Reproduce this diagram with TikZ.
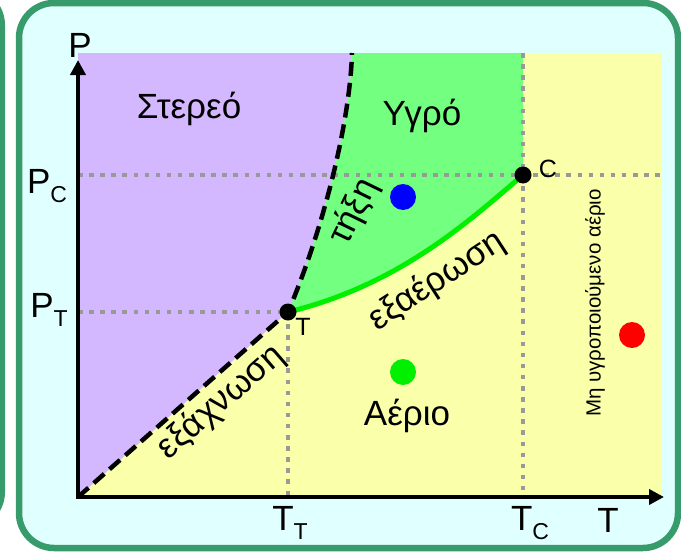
\documentclass[tikz,border=0pt]{standalone}
\usepackage{fontspec}
\setmainfont{Liberation Sans}
\usetikzlibrary{arrows.meta}

\definecolor{framegreen}{RGB}{56,155,108}
\definecolor{panelbg}{RGB}{224,255,255}
\definecolor{solidviolet}{RGB}{212,184,255}
\definecolor{liquidgreen}{RGB}{115,255,128}
\definecolor{gasyellow}{RGB}{250,255,170}
\definecolor{gridgray}{RGB}{153,153,153}
\definecolor{vapourgreen}{RGB}{0,240,0}

\newcommand{\subidx}[1]{\raisebox{-9pt}{\fontsize{23pt}{25pt}\selectfont #1}}

\begin{document}
\begin{tikzpicture}[
		x=1pt, y=-1pt,
		every node/.style={font=\fontsize{35pt}{40pt}\selectfont, inner sep=0pt},
		gridline/.style={line width=4.5pt, gridgray, dash pattern=on 4.5pt off 6.6pt},
		phaseline/.style={line width=4.5pt, dash pattern=on 14pt off 7pt},
		phaselabel/.style={font=\fontsize{35pt}{38pt}\selectfont},
		statedot/.style={circle, minimum size=26pt},
		pointdot/.style={circle, fill=black, minimum size=17pt}
		]
		\useasboundingbox (0,0) rectangle (681,557);
		\clip (0,0) rectangle (681,557);
		
		% Rahmen
		\draw [ line width=6pt, draw=framegreen, fill=panelbg, rounded corners=35pt ] (-120,-10) rectangle (2,527);
		\draw [ line width=6.5pt, draw=framegreen, fill=panelbg, rounded corners=35pt ] (19,3) rectangle (678,548);
		
		\coordinate (O) at (78,497);
		\coordinate (Ptop) at (78,60);
		\coordinate (Tend) at (664,497);
		\coordinate (T) at (288,312);
		\coordinate (C) at (523,175);
		\coordinate (mtop) at (352,53);
		\coordinate (Ctop) at (523,53);
		\coordinate (Cright) at (662,175);
		
		% Phasen
		\fill [ gasyellow ] (78,53) rectangle (662,497);
		\fill [ solidviolet ] (78,53) -- (mtop) .. controls (350,120) and (325,225) .. (T) -- (O) -- cycle;
		\fill [ liquidgreen ] (T) .. controls (325,225) and (350,120) .. (mtop) -- (Ctop) -- (C) .. controls (470,220) and (400,285) .. (T) -- cycle;
		
		\draw [ gridline ] (O |- C) -- (Cright);
		\draw [ gridline ] (Ctop) -- (C |- O);
		\draw [ gridline ] (O |- T) -- (T) -- (T |- O);
		
		\draw [ phaseline ] (O) -- (T) .. controls (325,225) and (350,120) .. (mtop);
		\draw [ line width=5pt, vapourgreen ] (T) .. controls (400,285) and (470,220) .. (C);
		
		\draw [ line width=4.5pt, {Triangle[length=15pt,width=15pt]}-{Triangle[length=15pt,width=15pt]} ] (Ptop) -- (O) -- (Tend);
		
		\node [ pointdot ] (tdot) at (T) {};
		\node [ pointdot ] (cdot) at (C) {};
		\node [ statedot, fill=blue ] (liquiddot) at (403,197) {};
		\node [ statedot, fill=vapourgreen ] (gasdot) at (403,372) {};
		\node [ statedot, fill=red ] (superdot) at (632,335) {};
		
		% Beschriftung
		\node [ anchor=base ] (solid) at (189,118) {Στερεό};
		\node [ anchor=base ] (liquid) at (422,125) {Υγρό};
		\node [ anchor=base ] (gas) at (407,425) {Αέριο};
		\node [ phaselabel, rotate=41 ] (sublim) at (221,402) {εξάχνωση};
		\node [ phaselabel, rotate=64 ] (melt) at (354,212) {τήξη};
		\node [ phaselabel, rotate=33 ] (vapour) at (437,281) {εξαέρωση};
		\node [ rotate=90, font=\fontsize{20.5pt}{22pt}\selectfont ] (supercrit) at (595,303) {Μη υγροποιούμενο αέριο};
		
		\node [ anchor=base ] (plabel) at (80,57) {P};
		\node [ anchor=base ] (tlabel) at (608,532) {T};
		\node [ anchor=base ] (pc) at (47,193) {P\subidx{C}};
		\node [ anchor=base ] (pt) at (49,317) {P\subidx{T}};
		\node [ anchor=base ] (tt) at (290,530) {T\subidx{T}};
		\node [ anchor=base ] (tc) at (530,530) {T\subidx{C}};
		\node [ anchor=base, font=\fontsize{25pt}{28pt}\selectfont ] (clabel) at (548,177) {C};
		\node [ anchor=base, font=\fontsize{25pt}{28pt}\selectfont ] (tplabel) at (303,335) {T};
		
	\end{tikzpicture}
\end{document}
